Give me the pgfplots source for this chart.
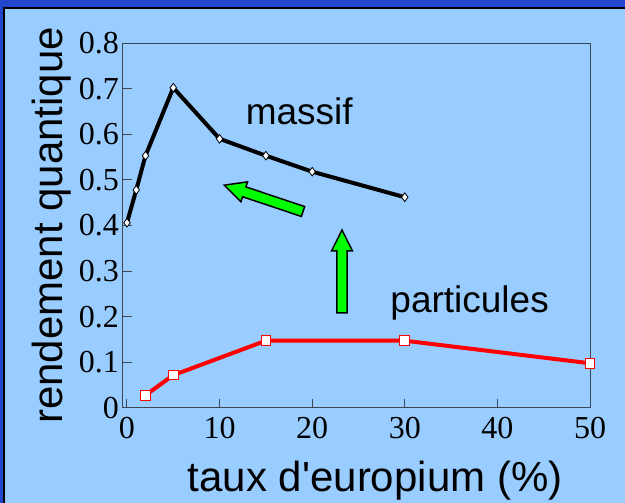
\documentclass[border=0pt]{standalone}
\usepackage{fontspec}
\setmainfont{Liberation Serif}
\newfontfamily\arial[Ligatures=TeXOff]{Liberation Sans}
\usepackage{pgfplots}
\pgfplotsset{compat=1.18}
\definecolor{bgblue}{HTML}{99CCFF}
\definecolor{frameblue}{HTML}{2346CF}
\definecolor{axgray}{HTML}{3C4655}
\definecolor{arrgreen}{HTML}{00FF00}
\begin{document}
\begin{tikzpicture}
\useasboundingbox (0pt,0pt) rectangle (625pt,503pt);
\fill[frameblue] (0pt,0pt) rectangle (625pt,503pt);
\fill[black] (3pt,0pt) rectangle (625pt,496pt);
\fill[bgblue] (5pt,0pt) rectangle (625pt,494pt);
\begin{axis}[
  at={(123pt,95pt)}, anchor=south west,
  scale only axis, width=467pt, height=365pt,
  xmin=-0.43, xmax=50, ymin=0, ymax=0.8,
  xtick={0,10,20,30,40,50},
  ytick={0,0.1,0.2,0.3,0.4,0.5,0.6,0.7,0.8},
  tick align=inside, xtick pos=left, ytick pos=left,
  major tick length=9pt,
  axis line style={axgray, line width=1pt},
  every tick/.style={axgray, line width=1pt},
  /pgf/number format/assume math mode=true,
  tick label style={font=\fontsize{32}{32}\selectfont},
  yticklabel style={inner sep=4pt},
  xticklabel style={yshift=-6pt},
  clip=false,
  xlabel={taux d'europium (\%)},
  ylabel={rendement quantique},
  xlabel style={font=\arial\fontsize{42}{42}\selectfont, at={(axis description cs:0.54,-0.228)}, anchor=base},
  ylabel style={font=\arial\fontsize{42}{42}\selectfont, at={(axis description cs:-0.1285,0.5)}, anchor=base},
]
\addplot[black, line width=4pt, mark=diamond*, mark size=4.3pt,
  mark options={fill=white, draw=black, line width=0.8pt, solid}]
  coordinates {(0,0.406) (1,0.478) (2,0.553) (5,0.702) (10,0.590) (15,0.553) (20,0.518) (30,0.462)};
\addplot[red, line width=4pt, mark=square*, mark size=4.8pt,
  mark options={fill=white, draw=red, line width=1pt, solid}]
  coordinates {(2,0.028) (5,0.072) (15,0.1475) (30,0.1475) (50,0.098)};
\node[font=\arial\fontsize{37}{37}\selectfont, anchor=base] at (axis cs:18.6,0.621) {massif};
\node[font=\arial\fontsize{37}{37}\selectfont, anchor=base] at (axis cs:37.0,0.21) {particules};
\end{axis}
\begin{scope}[shift={(303pt,291.5pt)}, rotate=161.5]
\draw[fill=arrgreen, line width=1.5pt, line join=miter]
  (0pt,-5.2pt)--(62pt,-5.2pt)--(62pt,-10.5pt)--(83pt,0pt)--(62pt,10.5pt)--(62pt,5.2pt)--(0pt,5.2pt)--cycle;
\end{scope}
\begin{scope}[shift={(342pt,190pt)}, rotate=90]
\draw[fill=arrgreen, line width=1.5pt, line join=miter]
  (0pt,-5.2pt)--(62pt,-5.2pt)--(62pt,-10.5pt)--(83pt,0pt)--(62pt,10.5pt)--(62pt,5.2pt)--(0pt,5.2pt)--cycle;
\end{scope}
\end{tikzpicture}
\end{document}
